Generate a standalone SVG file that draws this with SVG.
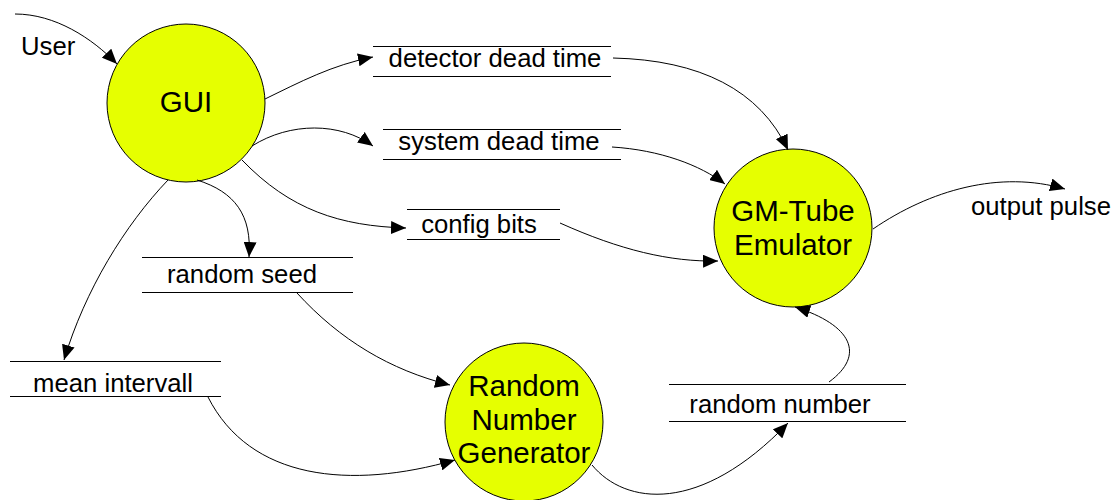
<svg xmlns="http://www.w3.org/2000/svg" width="1115" height="500" viewBox="0 0 1115 500">
  <style>
    .proc { fill: #e6ff00; stroke: #000; stroke-width: 1; }
    .ptxt { font-family: "Liberation Sans", Arial, sans-serif; font-size: 29.5px; fill: #000; text-anchor: middle; }
    .ltxt { font-family: "Liberation Sans", Arial, sans-serif; font-size: 25.7px; fill: #000; }
    .store line { stroke: #000; stroke-width: 1; }
    .flow { fill: none; stroke: #000; stroke-width: 1; marker-end: url(#arrow); }
  </style>
  <defs>
    <marker id="arrow" markerUnits="userSpaceOnUse" markerWidth="16" markerHeight="13" refX="15" refY="6.5" orient="auto">
      <path d="M0,0 L15,6.5 L0,13 z" fill="#000"/>
    </marker>
  </defs>
  <rect width="1115" height="500" fill="#fff"/>

  <!-- processes -->
  <g id="gui">
    <circle class="proc" cx="186" cy="103" r="79"/>
    <text class="ptxt" x="186" y="112">GUI</text>
  </g>
  <g id="gm-tube">
    <circle class="proc" cx="793" cy="228" r="79"/>
    <text class="ptxt" x="793" y="221">GM-Tube</text>
    <text class="ptxt" x="793" y="255">Emulator</text>
  </g>
  <g id="rng">
    <circle class="proc" cx="524" cy="422" r="79"/>
    <text class="ptxt" x="524" y="396">Random</text>
    <text class="ptxt" x="524" y="430">Number</text>
    <text class="ptxt" x="524" y="463">Generator</text>
  </g>

  <!-- data stores -->
  <g id="detector-dead-time" class="store">
    <line x1="373" y1="46.5" x2="611" y2="46.5"/>
    <line x1="373" y1="76.5" x2="611" y2="76.5"/>
    <text class="ltxt" x="495" y="67" text-anchor="middle">detector dead time</text>
  </g>
  <g id="system-dead-time" class="store">
    <line x1="383" y1="129.5" x2="621" y2="129.5"/>
    <line x1="383" y1="159.5" x2="621" y2="159.5"/>
    <text class="ltxt" x="499" y="150" text-anchor="middle">system dead time</text>
  </g>
  <g id="config-bits" class="store">
    <line x1="407" y1="209.5" x2="560" y2="209.5"/>
    <line x1="407" y1="239.5" x2="560" y2="239.5"/>
    <text class="ltxt" x="479" y="233" text-anchor="middle">config bits</text>
  </g>
  <g id="random-seed" class="store">
    <line x1="142" y1="257.5" x2="353" y2="257.5"/>
    <line x1="142" y1="292.5" x2="353" y2="292.5"/>
    <text class="ltxt" x="242" y="283" text-anchor="middle">random seed</text>
  </g>
  <g id="mean-intervall" class="store">
    <line x1="10" y1="361.5" x2="221" y2="361.5"/>
    <line x1="10" y1="396.5" x2="221" y2="396.5"/>
    <text class="ltxt" x="113" y="392" text-anchor="middle">mean intervall</text>
  </g>
  <g id="random-number" class="store">
    <line x1="669" y1="384.5" x2="906" y2="384.5"/>
    <line x1="669" y1="421.5" x2="906" y2="421.5"/>
    <text class="ltxt" x="780" y="413" text-anchor="middle">random number</text>
  </g>

  <!-- external endpoints -->
  <g id="user">
    <text class="ltxt" x="21" y="55">User</text>
  </g>
  <g id="output-pulse">
    <text class="ltxt" x="971" y="215">output pulse</text>
  </g>

  <!-- data flows -->
  <g id="flows">
    <path class="flow" d="M 15 14 C 55 14, 92 38, 117 64"/>
    <path class="flow" d="M 265 99 C 300 82, 332 65, 373 57"/>
    <path class="flow" d="M 252 146 C 290 122, 340 122, 373 146"/>
    <path class="flow" d="M 242 160 C 290 210, 340 226, 406 228"/>
    <path class="flow" d="M 197 180 C 235 192, 252 215, 249 257"/>
    <path class="flow" d="M 168 180 C 125 225, 85 290, 64 360"/>
    <path class="flow" d="M 297 293 C 340 340, 390 370, 450 385"/>
    <path class="flow" d="M 208 397 C 250 480, 350 490, 455 460"/>
    <path class="flow" d="M 592 465 C 625 505, 700 515, 788 423"/>
    <path class="flow" d="M 829 382 C 866 355, 852 325, 795 307"/>
    <path class="flow" d="M 613 58 C 700 60, 760 90, 788 150"/>
    <path class="flow" d="M 612 147 C 660 150, 700 165, 725 184"/>
    <path class="flow" d="M 560 223 C 620 250, 670 262, 718 261"/>
    <path class="flow" d="M 873 229 C 930 190, 1000 170, 1065 189"/>
  </g>
</svg>
